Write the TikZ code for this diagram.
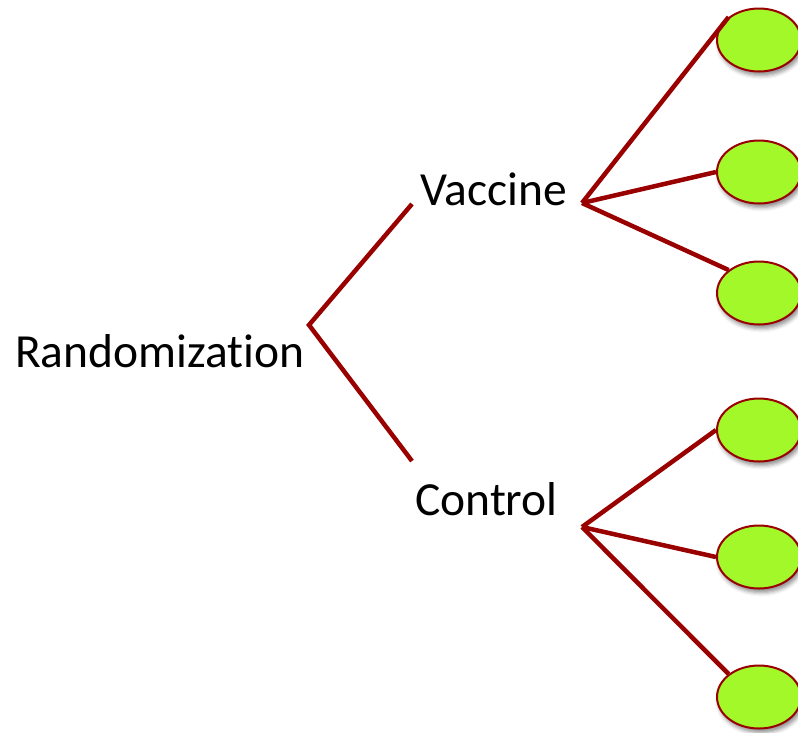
\documentclass[tikz,border=0pt]{standalone}
\usepackage{fontspec}
\setmainfont[Ligatures=NoCommon]{Carlito}
\usepackage{tikz}
\usetikzlibrary{shapes,calc,positioning,shadows.blur}
\definecolor{branchred}{RGB}{153,0,0}
\definecolor{outgreen}{RGB}{163,248,42}
\tikzstyle{branch}=[branchred,line width=4.5pt]
\tikzstyle{outcome}=[ellipse,draw=branchred,line width=2pt,fill=outgreen,
  minimum width=84pt,minimum height=63pt,inner sep=0pt,
  blur shadow={shadow xshift=2pt,shadow yshift=-4pt,shadow blur radius=4pt,shadow opacity=45}]
\tikzstyle{label}=[anchor=base west,inner sep=0pt,font=\fontsize{47.5}{57}\selectfont]

\begin{document}
\begin{tikzpicture}[x=1pt,y=-1pt]
  \useasboundingbox (0,0) rectangle (798,732);
  % labels
  \node[label] (rand) at (15,367) {Randomization};
  \node[label] (vac) at (420,205) {Vaccine};
  \node[label] (con) at (415,515) {Control};
  % branch points
  \coordinate (root) at (309,325);
  \coordinate (vac in) at (412,204);
  \coordinate (con in) at (412,461);
  \coordinate (vac out) at (582,203);
  \coordinate (con out) at (582,527);
  % outcomes
  \node[outcome] (v1) at (759,40) {};
  \node[outcome] (v2) at (759,172) {};
  \node[outcome] (v3) at (759,293) {};
  \node[outcome] (c1) at (759,430) {};
  \node[outcome] (c2) at (759,557) {};
  \node[outcome] (c3) at (759,697) {};
  % lines
  \draw[branch] (vac in) -- (root) -- (con in);
  \draw[branch] (vac out) -- (v1.north west);
  \draw[branch] (vac out) -- (v2.west);
  \draw[branch] (vac out) -- (v3.north west);
  \draw[branch] (con out) -- (c1.west);
  \draw[branch] (con out) -- (c2.west);
  \draw[branch] (con out) -- (c3.north west);
\end{tikzpicture}
\end{document}
